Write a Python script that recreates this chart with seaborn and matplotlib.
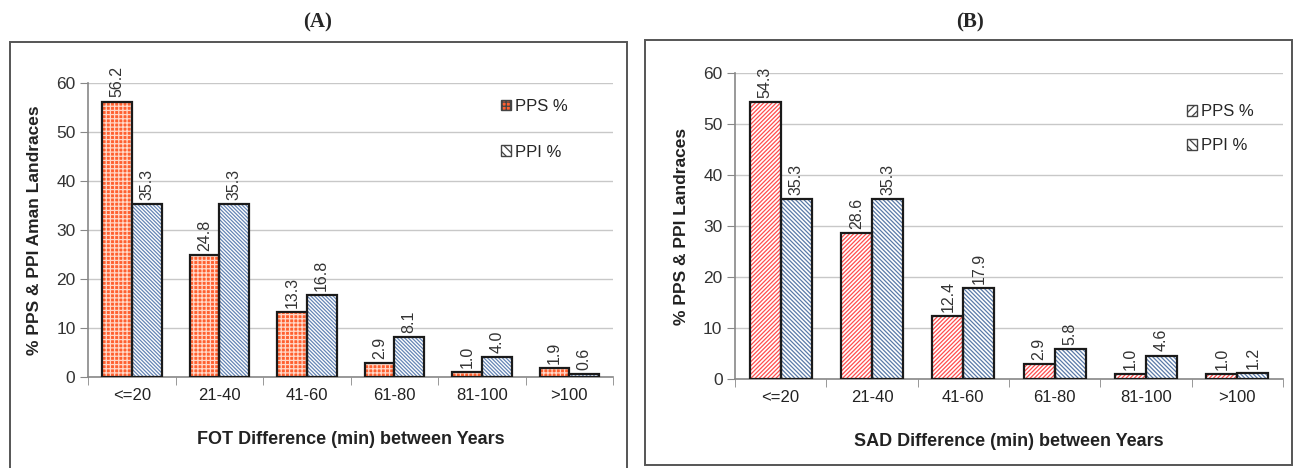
import matplotlib
matplotlib.use("Agg")
import matplotlib.pyplot as plt
from matplotlib.patches import Rectangle, Patch
import seaborn as sns
import pandas as pd

categories = ["<=20", "21-40", "41-60", "61-80", "81-100", ">100"]
series_names = ["PPS %", "PPI %"]
a_pps = [56.2, 24.8, 13.3, 2.9, 1.0, 1.9]
a_ppi = [35.3, 35.3, 16.8, 8.1, 4.0, 0.6]
b_pps = [54.3, 28.6, 12.4, 2.9, 1.0, 1.0]
b_ppi = [35.3, 35.3, 17.9, 5.8, 4.6, 1.2]
y_ticks = [0, 10, 20, 30, 40, 50, 60]

sns.set_style("white")
plt.rcParams['font.family'] = ['Liberation Sans', 'DejaVu Sans']
plt.rcParams['hatch.linewidth'] = 0.9

fig = plt.figure(figsize=(12.96, 4.68), dpi=100)

# panel frames
fig.patches.append(Rectangle((10/1296, -0.02), 617/1296, 0.02 + 1 - 42/468,
                             transform=fig.transFigure, fill=False,
                             edgecolor='#555555', lw=1.4, zorder=0))
fig.patches.append(Rectangle((645/1296, 1 - 465/468), 647/1296, (465 - 40)/468,
                             transform=fig.transFigure, fill=False,
                             edgecolor='#555555', lw=1.4, zorder=0))

styles_a = [
    dict(face='#ff6030', hatch_col='#ffd8c8', hatch='++++'),
    dict(face='#ffffff', hatch_col='#6585b5', hatch='\\' * 9),
]
styles_b = [
    dict(face='#ffffff', hatch_col='#ff4d4d', hatch='/' * 8),
    dict(face='#ffffff', hatch_col='#5a7aa8', hatch='\\' * 8),
]


def draw(ax, pps, ppi, styles, ylabel, xlabel, title, title_x, leg_anchor, leg_spacing):
    df = pd.DataFrame({
        "cat": categories * 2,
        "val": pps + ppi,
        "series": [series_names[0]] * len(categories) + [series_names[1]] * len(categories),
    })
    sns.barplot(data=df, x="cat", y="val", hue="series", order=categories,
                hue_order=series_names, width=0.68, legend=False, ax=ax,
                palette=['#ff6030', '#ffffff'], saturation=1)
    for cont, st, vals in zip(ax.containers, styles, [pps, ppi]):
        for bar in cont:
            bar.set_facecolor(st['face'])
            bar.set_edgecolor(st['hatch_col'])
            bar.set_hatch(st['hatch'])
            bar.set_linewidth(0)
            ax.add_patch(Rectangle((bar.get_x(), bar.get_y()), bar.get_width(), bar.get_height(),
                                   fill=False, edgecolor='#1a1a1a', lw=1.6, zorder=3))
        ax.bar_label(cont, labels=[f"{v:.1f}" for v in vals], rotation=90, padding=3,
                     fontsize=11.5, color='#333333')
    ax.set_ylim(0, 60)
    ax.set_yticks(y_ticks)
    ax.set_xlim(-0.5, len(categories) - 0.5)
    ax.yaxis.grid(True, color='#c8c8c8', lw=1)
    ax.set_axisbelow(True)
    for s in ['top', 'right']:
        ax.spines[s].set_visible(False)
    for s in ['left', 'bottom']:
        ax.spines[s].set_color('#888888')
        ax.spines[s].set_linewidth(1.2)
    ax.set_xticks([i - 0.5 for i in range(len(categories) + 1)], minor=True)
    ax.tick_params(axis='x', which='major', length=0, labelsize=12, pad=8, labelcolor='#222222')
    ax.tick_params(axis='x', which='minor', length=6, color='#888888', direction='out', bottom=True)
    ax.tick_params(axis='y', length=6, color='#888888', direction='out', left=True,
                   labelsize=12.5, labelcolor='#333333', pad=3)
    ax.set_xlabel(xlabel, fontsize=13, fontweight='bold', labelpad=20, color='#222222')
    ax.set_ylabel(ylabel, fontsize=12.5, fontweight='bold', labelpad=10, color='#222222')
    handles = [Patch(facecolor=st['face'], edgecolor=st['hatch_col'], hatch=st['hatch'][:4], lw=0)
               for st in styles]
    leg = ax.legend(handles, series_names, loc='upper left', bbox_to_anchor=leg_anchor,
                    frameon=False, fontsize=12, handlelength=0.6, handleheight=0.6,
                    handletextpad=0.25, labelspacing=leg_spacing, borderpad=0)
    for h in leg.legend_handles:
        h.set_edgecolor('#444444')
        h.set_linewidth(1.0)
    fig.text(title_x, 1 - 22/468, title, ha='center', va='center',
             family='Liberation Serif', fontweight='bold', fontsize=15)


axA = fig.add_axes([88/1296, 1 - 377/468, (613 - 88)/1296, (377 - 83)/468])
axB = fig.add_axes([735/1296, 1 - 379/468, (1283 - 735)/1296, (379 - 73)/468])

draw(axA, a_pps, a_ppi, styles_a, "% PPS & PPI Aman Landraces",
     "FOT Difference (min) between Years", "(A)", 318/1296, (0.77, 0.975), 1.85)
draw(axB, b_pps, b_ppi, styles_b, "% PPS & PPI Landraces",
     "SAD Difference (min) between Years", "(B)", 970/1296, (0.81, 0.925), 1.15)

fig.savefig("out.png", dpi=100)
